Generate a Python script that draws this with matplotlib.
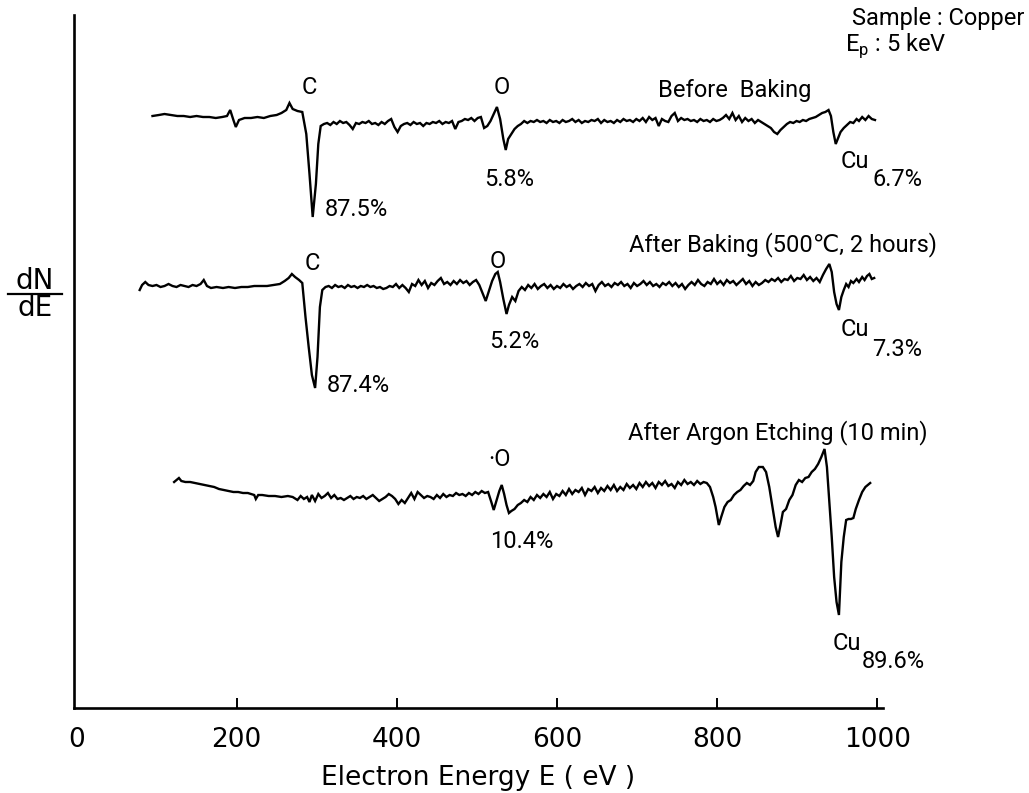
import matplotlib
matplotlib.use('Agg')
import matplotlib.pyplot as plt
from matplotlib.lines import Line2D

# Auger spectra of a copper sample, dN/dE versus electron energy.
# Each trace is stored as energy (eV) and signal relative to its own baseline.

E_before = [95, 103, 110, 118, 126, 134, 142, 150, 158, 166, 174, 182, 188, 192, 196, 199, 203, 210,
            218, 226, 234, 242, 250, 256, 262, 266, 270, 276, 282, 287, 291, 295, 299, 302, 305,
            309, 313, 317, 321, 325, 329, 333, 337, 341, 345, 349, 353, 357, 361, 365, 369, 373,
            377, 381, 385, 389, 393, 397, 401, 405, 409, 413, 417, 421, 425, 429, 433, 437, 441,
            445, 449, 453, 457, 461, 465, 469, 473, 477, 481, 485, 489, 493, 497, 501, 505, 509,
            513, 517, 521, 525, 529, 533, 536, 539, 543, 547, 551, 555,
            559, 563, 567, 571, 575, 579, 583, 587, 591, 595, 599, 603, 607, 611, 615, 619, 623,
            627, 631, 635, 639, 643, 647, 651, 655, 659, 663, 667, 671, 675, 679, 683, 687, 691,
            695, 699, 703, 707, 711, 715, 719, 723, 727, 731, 735, 739, 743, 747, 751, 755, 759,
            763, 767, 771, 775, 779, 783, 787, 791, 795, 799, 803, 807, 811, 815, 819, 823, 827,
            831, 835, 839, 843, 847, 851, 855, 859, 863, 867, 871, 875, 879, 883, 887, 891, 895,
            899, 903, 907, 911, 915, 919, 923, 927, 931, 935, 939, 942, 945, 948, 951, 954, 958,
            962, 966, 970, 974, 977, 981, 985, 989, 993, 997]
S_before = [8, 9, 10, 9, 8, 8, 7, 8, 7, 7, 6, 7, 8, 14, 4, -3, 4, 6,
            6, 7, 6, 8, 9, 11, 14, 21, 15, 13, 12, -10, -50, -93, -60, -20, -2,
            0, 1, -1, 2, 0, 3, 1, 2, -1, -5, 1, 0, 2, 1, 3, 0, 1,
            -1, 2, 0, 3, 5, -3, -8, -2, 0, 1, -1, 2, 0, 1, -2, 1, 0,
            2, 1, 3, 0, 2, 1, 3, -5, 2, 3, 5, 4, 6, 3, 6, 7, -4,
            -2, 3, 10, 17, 5, -15, -26, -15, -10, -5, -2, 0,
            3, 1, 3, 2, 4, 2, 3, 1, 4, 2, 3, 1, 4, 2, 3, 5, 2,
            4, 1, 3, 2, 4, 3, 5, 1, 4, 2, 3, 1, 4, 2, 5, 3, 4,
            2, 5, 3, 6, 2, 7, 4, 6, -2, 5, 3, 2, 8, 11, 3, 6, 4,
            5, 3, 4, 2, 5, 3, 4, 2, 5, 3, 4, 6, 9, 5, 11, 4, 8,
            2, 6, 3, 5, 1, 4, 2, 0, -2, -4, -8, -10, -6, -3, 0, 2, 1,
            3, 2, 4, 3, 5, 6, 7, 9, 11, 12, 14, 8, -8, -20, -14, -8, -4,
            -1, 2, 1, 5, 3, 7, 4, 8, 5, 4]

E_baked = [79, 82, 86, 90, 95, 100, 105, 110, 115, 120, 125, 130, 135, 140, 145, 150, 155, 159,
           163, 168, 175, 183, 190, 198, 206, 214, 222, 230, 238, 246, 254, 260, 265, 269, 273,
           278, 282, 286, 290, 294, 298, 301, 304, 307,
           311, 315, 319, 323, 327, 331, 335, 339, 343, 347, 351, 355, 359, 363, 367, 371, 375,
           379, 383, 387, 391, 395, 399, 403, 407, 411, 415, 419, 423, 427, 431, 435, 439, 443,
           447, 451, 455, 459, 463, 467, 471, 475, 479, 483, 487, 491, 495, 499, 503, 507, 511,
           515, 519, 523, 526, 529, 533, 537, 540, 544, 548, 552, 556,
           560, 564, 568, 572, 576, 580, 584, 588, 592, 596, 600, 604, 608, 612, 616, 620, 624,
           628, 632, 636, 640, 644, 648, 652, 656, 660, 664, 668, 672, 676, 680, 684, 688, 692,
           696, 700, 704, 708, 712, 716, 720, 724, 728, 732, 736, 740, 744, 748, 752, 756, 760,
           764, 768, 772, 776, 780, 784, 788, 792, 796, 800, 804, 808, 812, 816, 820, 824, 828,
           832, 836, 840, 844, 848, 852, 856, 860, 864, 868, 872, 876, 880, 884, 888, 892, 896,
           900, 904, 908, 912, 916, 920, 924, 928, 932, 936, 940, 943, 946, 949, 952, 955, 958,
           961, 964, 967, 970, 974, 977, 981, 984, 987, 990, 993, 996]
S_baked = [-3, 2, 5, 2, 1, 2, 0, 1, 3, 1, 0, 2, 1, 0, 2, 1, 3, 7,
           1, -1, 0, -1, 0, -1, 0, 0, 1, 1, 1, 2, 3, 6, 9, 13, 10,
           7, 4, -30, -60, -88, -101, -70, -20, -3,
           0, 1, -1, 2, 0, 1, -1, 2, 0, 1, -1, 1, 0, 2, 0, 1, -1,
           0, -2, -1, 1, 0, 3, -1, 2, -1, -5, 3, 1, 7, 2, 6, -1, 4,
           2, 6, 9, 3, 5, 2, 6, 3, 7, 4, 6, 2, 5, 7, 2, -6, -14,
           -4, 6, 13, 15, 5, -12, -27, -18, -10, -14, -4, 0,
           -3, 2, -1, 3, -2, 1, 3, -1, 2, -2, 1, -1, 3, 0, 2, -2, 1,
           3, 0, 4, 1, 3, -4, 2, 5, 1, 3, 0, 4, 2, 5, 1, 3, -1,
           4, 1, 3, 6, 2, 5, 1, 3, 0, 4, 2, 5, 1, 4, 0, 3, -2,
           2, 5, 2, 7, 3, 1, 5, 3, 8, 3, 6, 2, 7, 4, 6, 2, 5,
           8, 3, 6, 1, 5, 2, 4, 7, 5, 8, 6, 9, 5, 8, 7, 11, 6,
           9, 8, 12, 7, 10, 6, 9, 5, 12, 18, 23, 15, -5, -17, -23, -10, -3,
           3, 0, 6, 4, 8, 5, 10, 7, 11, 13, 8, 9]

E_etched = [122, 125, 128, 131, 136, 142, 148, 154, 160, 166, 172, 178, 184, 190, 196, 202, 208,
            214, 218, 222, 224, 227, 232, 240, 248, 256, 264, 270, 276, 280, 284, 288, 291, 294,
            298, 302, 306, 310, 314, 318, 322, 326, 330, 334, 338, 342, 346, 350, 354, 358, 362,
            366, 370, 374, 378, 382, 386, 390, 394, 398, 402, 406, 410, 414, 418, 422, 426, 430,
            434, 438, 442, 446, 450, 454, 458, 462, 466, 470, 474, 478, 482, 486, 490, 494, 498,
            502, 506, 510, 514, 518, 521, 524, 528, 531, 534, 537, 540, 543, 547, 551, 555, 559,
            563, 567, 571, 575, 579, 583, 587, 591, 595, 599, 603, 607, 611, 615, 619, 623, 627,
            631, 635, 639, 643, 647, 651, 655, 659, 663, 667, 671, 675, 679, 683, 687, 691, 695,
            699, 703, 707, 711, 715, 719, 723, 727, 731, 735, 739, 743, 747, 751, 755, 759, 763,
            767, 771, 775, 779, 783, 787, 791, 795, 798, 802, 805, 809, 813, 817, 821, 825, 829,
            833, 837, 841, 845, 848, 852, 857, 861, 865, 869, 873, 876, 879, 882, 886, 890, 894,
            898, 902, 906, 910, 914, 918, 922, 926, 930, 934, 937, 940, 943, 946, 949, 952, 955,
            958, 961, 964, 967, 970, 973, 977, 981, 985, 988, 991]
S_etched = [15, 17, 19, 16, 15, 15, 14, 13, 12, 11, 10, 8, 7, 6, 5, 5, 4,
            4, 3, 2, -2, 2, 2, 1, 1, 0, 1, 0, -3, 1, -2, 0, -5, 2,
            -4, 3, -1, 1, 4, -1, 2, -2, -1, -3, -1, 1, -2, 0, -1, 1, -2,
            0, 2, -1, -4, -2, 0, 3, 1, -2, -7, -3, -6, -1, 4, -2, 5, 2,
            -1, 1, 0, -2, 2, -1, 3, 0, 2, 1, 4, 2, 3, 1, 4, 2, 5,
            3, 6, 4, 5, -5, -13, -5, 6, 12, 3, -8, -16, -14, -12, -8, -6, -3,
            -5, 0, -3, 2, -1, 3, 0, 5, -2, 3, 1, 6, 2, 8, 3, 7, 5,
            9, 2, 8, 6, 10, 4, 9, 6, 11, 7, 12, 6, 10, 7, 13, 9, 12,
            8, 14, 10, 15, 11, 14, 9, 15, 12, 16, 11, 13, 9, 15, 12, 17, 13,
            15, 12, 16, 13, 15, 14, 10, 0, -10, -28, -20, -10, -5, -3, 2, 5, 7,
            11, 14, 12, 16, 25, 30, 30, 25, 10, -10, -30, -40, -28, -15, -12, -3, 2,
            12, 17, 15, 19, 20, 25, 28, 33, 40, 48, 30, -5, -40, -80, -105, -118, -65,
            -40, -23, -22, -22, -21, -12, -3, 5, 10, 12, 14]

# vertical position of each trace's baseline (arbitrary dN/dE units)
offsets = {'before': 584, 'baked': 421, 'etched': 211}

xticks = [0, 200, 400, 600, 800, 1000]

NARROW = ['Roboto', 'DejaVu Sans']

fig = plt.figure(figsize=(10.29, 7.93), dpi=100)
ax = fig.add_axes([74 / 1029, 85 / 793, 809 / 1029, 693 / 793])

for E, S, key in [(E_before, S_before, 'before'),
                  (E_baked, S_baked, 'baked'),
                  (E_etched, S_etched, 'etched')]:
    ax.plot(E, [offsets[key] + s for s in S], color='black', lw=1.7,
            solid_joinstyle='miter')

ax.set_xlim(-3, 1007)
ax.set_ylim(0, 693)

for side in ['top', 'right']:
    ax.spines[side].set_visible(False)
for side in ['left', 'bottom']:
    ax.spines[side].set_linewidth(1.9)

ax.set_xticks(xticks)
ax.set_xticklabels([str(t) for t in xticks])
ax.set_yticks([])
ax.tick_params(axis='x', direction='in', length=7, width=1.4, pad=14, labelsize=19)
ax.xaxis.get_major_ticks()[0].tick1line.set_visible(False)

ax.set_xlabel('Electron Energy E ( eV )', fontsize=19, labelpad=8)

# dN/dE written as a fraction beside the vertical axis
fig.text(35 / 1029, 1 - 281 / 793, 'dN', fontsize=20, ha='center', va='center')
fig.text(35 / 1029, 1 - 308 / 793, 'dE', fontsize=20, ha='center', va='center')
fig.add_artist(Line2D([8 / 1029, 62 / 1029], [1 - 294 / 793, 1 - 294 / 793],
                      color='black', lw=1.6))

# sample conditions
fig.text(1024 / 1029, 1 - 18 / 793, 'Sample : Copper', fontsize=17, family=NARROW,
         ha='right', va='center')
fig.text(845 / 1029, 1 - 46 / 793, r'E$_\mathregular{p}$ : 5 keV', fontsize=17, family=NARROW,
         ha='left', va='center')

labels = [
    # (energy, y, text, ha)
    (291, 620, 'C', 'center'),
    (531, 620, 'O', 'center'),
    (822, 618, 'Before  Baking', 'center'),
    (310, 498, '87.5%', 'left'),
    (509, 529, '5.8%', 'left'),
    (954, 547, 'Cu', 'left'),
    (994, 528, '6.7%', 'left'),
    (295, 445, 'C', 'center'),
    (526, 446, 'O', 'center'),
    (690, 463, 'After Baking (500\u2103, 2 hours)', 'left'),
    (312, 323, '87.4%', 'left'),
    (515, 367, '5.2%', 'left'),
    (954, 378, 'Cu', 'left'),
    (994, 359, '7.3%', 'left'),
    (689, 275, 'After Argon Etching (10 min)', 'left'),
    (514, 248, '\u00b7O', 'left'),
    (516, 167, '10.4%', 'left'),
    (944, 65, 'Cu', 'left'),
    (981, 46, '89.6%', 'left'),
]
for x, y, s, ha in labels:
    ax.text(x, y, s, fontsize=17, family=NARROW, ha=ha, va='center', clip_on=False)

fig.savefig('out.png', dpi=100)
